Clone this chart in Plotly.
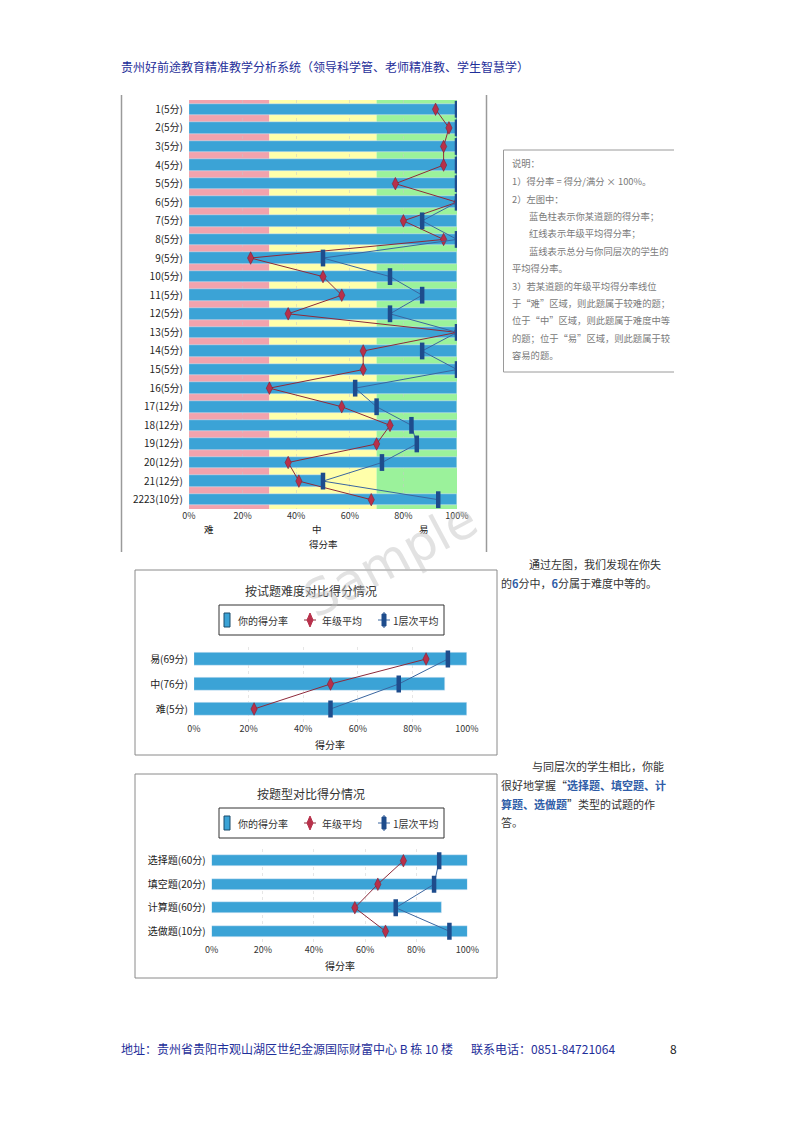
import plotly.graph_objects as go

# ---------------- data ----------------
top_cats = ["1(5分)", "2(5分)", "3(5分)", "4(5分)", "5(5分)", "6(5分)", "7(5分)", "8(5分)",
            "9(5分)", "10(5分)", "11(5分)", "12(5分)", "13(5分)", "14(5分)", "15(5分)", "16(5分)",
            "17(12分)", "18(12分)", "19(12分)", "20(12分)", "21(12分)", "2223(10分)"]
top_score = [100, 100, 100, 100, 100, 100, 100, 100, 100, 100, 100, 100, 100, 100, 100, 100,
             100, 100, 100, 100, 50, 100]
top_grade = [92, 97, 95, 95, 77, 100, 80, 95, 23, 50, 57, 37, 100, 65, 65, 30, 57, 75, 70, 37, 41, 68]
top_layer = [100, 100, 100, 100, 100, 100, 87, 100, 50, 75, 87, 75, 100, 87, 100, 62, 70, 83, 85, 72, 50, 93]

diff_cats = ["易(69分)", "中(76分)", "难(5分)"]
diff_score = [100, 92, 100]
diff_grade = [85, 50, 22]
diff_layer = [93, 75, 50]

type_cats = ["选择题(60分)", "填空题(20分)", "计算题(60分)", "选做题(10分)"]
type_score = [100, 100, 90, 100]
type_grade = [75, 65, 56, 68]
type_layer = [89, 87, 72, 93]

x_ticks = [0, 20, 40, 60, 80, 100]
zones = [(0, 30, "#F2A3AD"), (30, 70, "#FFFFAA"), (70, 100, "#9BF29B")]
zone_labels = ["难", "中", "易"]

# ---------------- style ----------------
W, H = 794, 1122
FONT = "Noto Sans CJK SC"
BAR = "#3BA3D6"
RED = "#B8304A"
REDLINE = "#8E2A3A"
NAVY = "#1E4C8C"
NAVYLINE = "#3A66A0"
GRAY_TXT = "#7a7a7a"
BLUE_TXT = "#1f2f9a"


def X(px):
    return px / W


def Y(py):
    return 1 - py / H


fig = go.Figure()


def add_chart(cats, score, grade, layer, xa, ya, bar_w):
    fig.add_trace(go.Bar(x=score, y=cats, orientation="h", marker_color=BAR, width=bar_w,
                         xaxis=xa, yaxis=ya, showlegend=False, name="你的得分率"))
    fig.add_trace(go.Scatter(x=grade, y=cats, mode="lines+markers", xaxis=xa, yaxis=ya,
                             line=dict(color=REDLINE, width=1),
                             marker=dict(symbol="diamond-tall", size=9, color=RED,
                                         line=dict(color="#7a1a2a", width=0.5)),
                             showlegend=False, name="年级平均"))
    fig.add_trace(go.Scatter(x=layer, y=cats, mode="lines+markers", xaxis=xa, yaxis=ya,
                             line=dict(color=NAVYLINE, width=1),
                             marker=dict(symbol="line-ns", size=12, color=NAVY,
                                         line=dict(color=NAVY, width=4.5)),
                             showlegend=False, name="1层次平均"))


add_chart(top_cats, top_score, top_grade, top_layer, "x", "y", 0.62)
add_chart(diff_cats, diff_score, diff_grade, diff_layer, "x2", "y2", 0.5)
add_chart(type_cats, type_score, type_grade, type_layer, "x3", "y3", 0.48)

xcommon = dict(range=[0, 100], tickvals=x_ticks, ticktext=[f"{v}%" for v in x_ticks], automargin=False,
               showline=False, zeroline=False, ticks="", tickfont=dict(size=9, color="#333", family=FONT))
ycommon = dict(type="category", showline=False, showgrid=False, zeroline=False, automargin=False,
               ticks="", tickfont=dict(size=10, color="#222", family=FONT))

fig.update_layout(
    width=W, height=H, autosize=False, margin=dict(l=0, r=0, t=0, b=0, pad=0),
    paper_bgcolor="white", plot_bgcolor="rgba(0,0,0,0)",
    font=dict(family=FONT, color="#333"),
    showlegend=False, bargap=0,
    xaxis=dict(domain=[X(189), X(457)], anchor="y", showgrid=True, gridcolor="rgba(200,200,200,0.5)",
               griddash="dot", **xcommon),
    yaxis=dict(domain=[Y(509), Y(100)], anchor="x", categoryorder="array", categoryarray=top_cats,
               range=[len(top_cats) - 0.5, -0.5], **ycommon),
    xaxis2=dict(domain=[X(194), X(467)], anchor="y2", showgrid=True, gridcolor="#e6e6e6",
                griddash="dot", **xcommon),
    yaxis2=dict(domain=[Y(721.5), Y(646.5)], anchor="x2", categoryorder="array", categoryarray=diff_cats,
                range=[len(diff_cats) - 0.5, -0.5], **ycommon),
    xaxis3=dict(domain=[X(211.7), X(467.3)], anchor="y3", showgrid=True, gridcolor="#e6e6e6",
                griddash="dot", **xcommon),
    yaxis3=dict(domain=[Y(943), Y(849)], anchor="x3", categoryorder="array", categoryarray=type_cats,
                range=[len(type_cats) - 0.5, -0.5], **ycommon),
)
fig.update_yaxes(ticklabelstandoff=5)

shapes = []
for x0, x1, c in zones:
    shapes.append(dict(type="rect", xref="x", yref="y domain", x0=x0, x1=x1, y0=0, y1=1,
                       fillcolor=c, line=dict(width=0), layer="below"))


def rect_px(x0, y0, x1, y1, color="#808080", width=1, fill=None):
    d = dict(type="rect", xref="paper", yref="paper", x0=X(x0), x1=X(x1), y0=Y(y1), y1=Y(y0),
             line=dict(color=color, width=width))
    if fill:
        d["fillcolor"] = fill
    return d


def line_px(x0, y0, x1, y1, color="#999", width=1):
    return dict(type="line", xref="paper", yref="paper", x0=X(x0), x1=X(x1), y0=Y(y0), y1=Y(y1),
                line=dict(color=color, width=width))


shapes.append(line_px(121.5, 95, 121.5, 552, "#9a9a9a", 1.5))
shapes.append(line_px(486.5, 95, 486.5, 552, "#9a9a9a", 1.5))
shapes.append(rect_px(135, 570, 497, 755, "#8a8a8a", 1))
shapes.append(rect_px(135, 774, 497, 978, "#8a8a8a", 1))
shapes.append(line_px(503.5, 150, 503.5, 372, "#9a9a9a", 1))
shapes.append(line_px(503.5, 150, 674, 150, "#9a9a9a", 1))
shapes.append(line_px(503.5, 372, 674, 372, "#9a9a9a", 1))


def legend_px(cy):
    out = []
    out.append(rect_px(219, cy - 15, 444, cy + 15, "#333", 1))
    out.append(rect_px(224, cy - 7, 230, cy + 7, "#1a4a6a", 1, BAR))
    out.append(line_px(304, cy, 316, cy, REDLINE, 1))
    p = f"M {X(310)},{Y(cy - 7)} L {X(313)},{Y(cy)} L {X(310)},{Y(cy + 7)} L {X(307)},{Y(cy)} Z"
    out.append(dict(type="path", xref="paper", yref="paper", path=p, fillcolor=RED,
                    line=dict(color=RED, width=1)))
    out.append(line_px(378, cy, 390, cy, NAVYLINE, 1))
    out.append(line_px(384, cy - 8, 384, cy + 8, NAVY, 1))
    out.append(rect_px(382, cy - 6, 386, cy + 6, NAVY, 1, NAVY))
    return out


shapes += legend_px(620)
shapes += legend_px(823)
fig.update_layout(shapes=shapes)

ann = []


def text_px(x, y, s, size=10, color="#333", xanchor="left", **kw):
    ann.append(dict(x=X(x), y=Y(y), xref="paper", yref="paper", text=s, showarrow=False,
                    xanchor=xanchor, yanchor="middle", font=dict(size=size, color=color, family=FONT), **kw))


text_px(119, 67, "贵州好前途教育精准教学分析系统（领导科学管、老师精准教、学生智慧学）", 12, BLUE_TXT)
text_px(119, 1048, "地址：贵州省贵阳市观山湖区世纪金源国际财富中心 B 栋 10 楼", 12, BLUE_TXT)
text_px(469, 1048, "联系电话：0851-84721064", 12, BLUE_TXT)
text_px(668, 1048, "8", 12, "#222")

for lbl, px in zip(zone_labels, [209, 317, 424]):
    text_px(px, 529, lbl, 9.5, "#222", "center")
text_px(323, 544, "得分率", 9.5, "#222", "center")

text_px(311, 590, "按试题难度对比得分情况", 12, "#333", "center")
text_px(236, 620, "你的得分率", 10, "#333")
text_px(320, 620, "年级平均", 10, "#333")
text_px(391, 620, "1层次平均", 10, "#333")
text_px(330, 744, "得分率", 10, "#222", "center")

text_px(311, 793, "按题型对比得分情况", 12, "#333", "center")
text_px(236, 823, "你的得分率", 10, "#333")
text_px(320, 823, "年级平均", 10, "#333")
text_px(391, 823, "1层次平均", 10, "#333")
text_px(340, 965, "得分率", 10, "#222", "center")

exp_lines = [
    (510, 163, "说明："),
    (510, 181, "1）得分率 = 得分/满分 × 100%。"),
    (510, 199, "2）左图中："),
    (527, 216, "蓝色柱表示你某道题的得分率；"),
    (527, 233, "红线表示年级平均得分率；"),
    (527, 251, "蓝线表示总分与你同层次的学生的"),
    (510, 268, "平均得分率。"),
    (510, 286, "3）若某道题的年级平均得分率线位"),
    (510, 303, "于“难”区域，则此题属于较难的题；"),
    (510, 320, "位于“中”区域，则此题属于难度中等"),
    (510, 338, "的题；位于“易”区域，则此题属于较"),
    (510, 355, "容易的题。"),
]
for x, y, s in exp_lines:
    text_px(x, y, s, 9.3, GRAY_TXT)

HL = "#2F5DA8"
text_px(527, 564, "通过左图，我们发现在你失", 11, "#333")
text_px(499, 583, f"的<b><span style='color:{HL}'>6</span></b>分中，<b><span style='color:{HL}'>6</span></b>分属于难度中等的。", 11, "#333")
text_px(530, 766, "与同层次的学生相比，你能", 11, "#333")
text_px(499, 785, f"很好地掌握“<b><span style='color:{HL}'>选择题、填空题、计</span></b>", 11, "#333")
text_px(499, 804, f"<b><span style='color:{HL}'>算题、选做题</span></b>”类型的试题的作", 11, "#333")
text_px(499, 822, "答。", 11, "#333")

ann.append(dict(x=X(390), y=Y(560), xref="paper", yref="paper", text="Sample", showarrow=False,
                textangle=-28, font=dict(size=50, color="rgba(190,190,190,0.45)", family="DejaVu Sans")))

fig.update_layout(annotations=ann)

fig.write_html("out.html", config={"responsive": False, "displayModeBar": False},
               post_script="document.body.style.margin='0';document.body.style.padding='0';")
